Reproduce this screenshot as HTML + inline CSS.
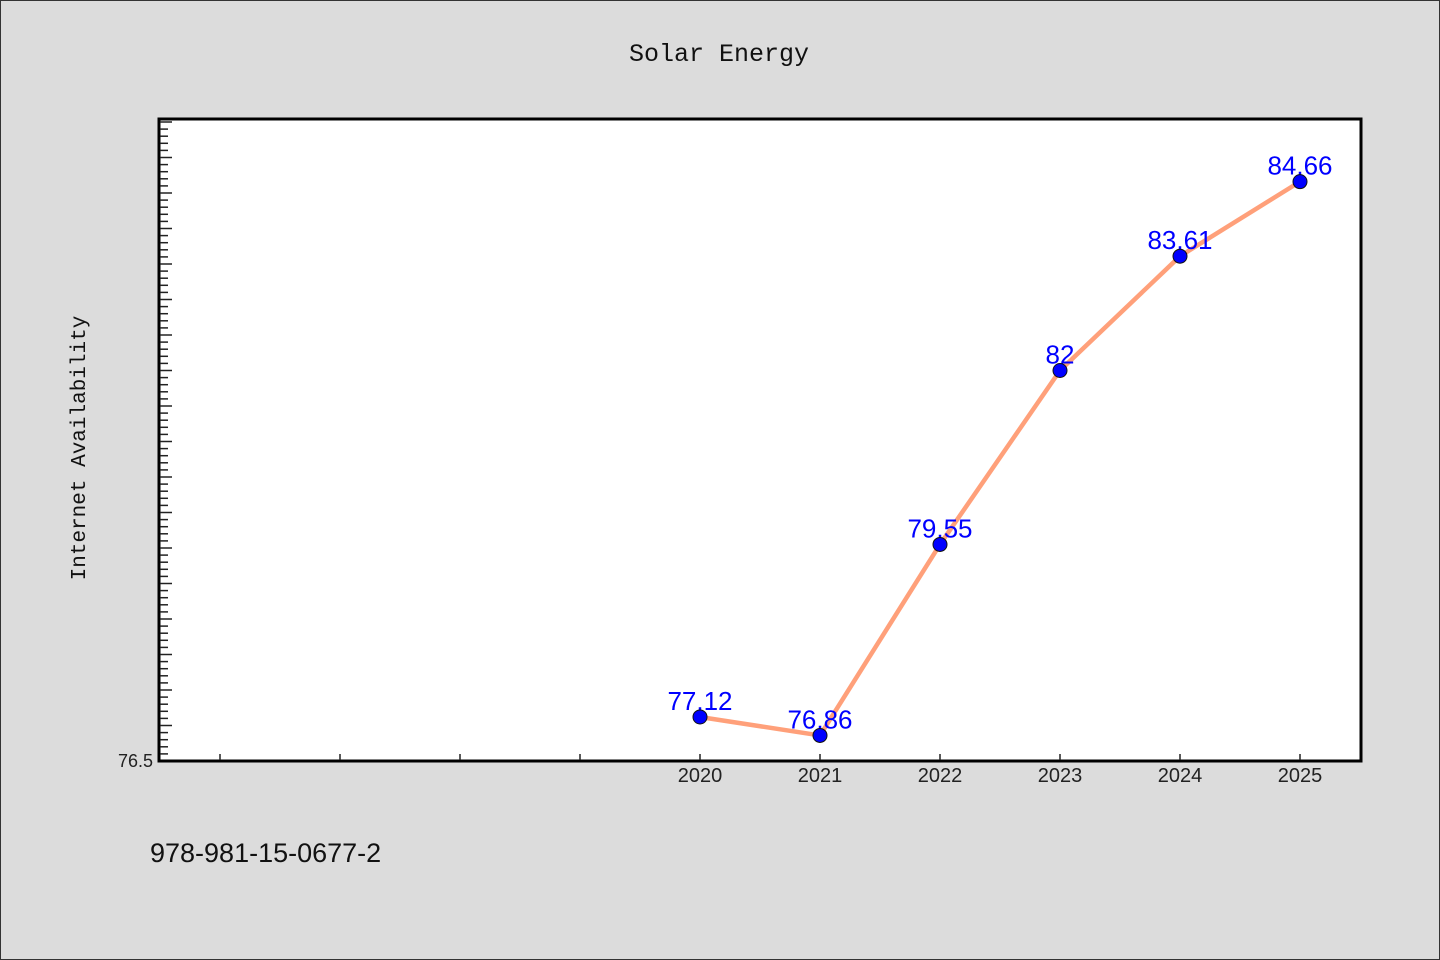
<!DOCTYPE html>
<html><head><meta charset="utf-8"><style>
body{margin:0;background:#dcdcdc;}
svg{display:block;}
</style></head><body>
<svg width="1440" height="960" xmlns="http://www.w3.org/2000/svg">
<rect x="0.5" y="0.5" width="1439" height="959" fill="#dcdcdc" stroke="#333"/>
<text x="719" y="61" text-anchor="middle" font-family="Liberation Mono, monospace" font-size="25" fill="#111">Solar Energy</text>
<text transform="translate(85,448) rotate(-90)" text-anchor="middle" font-family="Liberation Mono, monospace" font-size="21" fill="#111">Internet Availability</text>
<rect x="159" y="119" width="1202" height="642" fill="#fff" stroke="#000" stroke-width="3"/>
<g id="ticks"></g>
<g id="marks"></g>
<text x="150" y="862" font-family="Liberation Sans, sans-serif" font-size="27" fill="#111">978-981-15-0677-2</text>
</svg>
<script>
const categories=[2020,2021,2022,2023,2024,2025];
const values=[77.12,76.86,79.55,82,83.61,84.66];
const valueLabels=["77.12","76.86","79.55","82","83.61","84.66"];
const xMinorTicks=[2016,2017,2018,2019];
const yMin=76.5, yMax=85.54;
const NS="http://www.w3.org/2000/svg";
const X=v=>160+(v-2015.5)*120;
const Y=v=>761-(v-yMin)*71;
function mk(t,a,p){const e=document.createElementNS(NS,t);for(const k in a)e.setAttribute(k,a[k]);p.appendChild(e);return e;}
const tg=document.getElementById('ticks'), mg=document.getElementById('marks');
for(let i=1;i*0.1+yMin<=yMax+1e-9;i++){
  const y=Y(yMin+i*0.1), major=i%5===0;
  const l=mk('line',{x1:160,x2:160+(major?12:8),y1:y,y2:y,stroke:'#222','stroke-width':1.5},tg);
  
  
}
const yl=mk('text',{x:153,y:767,'text-anchor':'end','font-family':'Liberation Sans, sans-serif','font-size':18,fill:'#222'},tg);
yl.textContent='76.5';


xMinorTicks.concat(categories).forEach(c=>{
  const l=mk('line',{x1:X(c),x2:X(c),y1:760,y2:754,stroke:'#222','stroke-width':1.5},tg);
  
  
});
categories.forEach(c=>{
  const t=mk('text',{x:X(c),y:782,'text-anchor':'middle','font-family':'Liberation Sans, sans-serif','font-size':20,fill:'#222'},tg);
  t.textContent=c;
  
  
});
const pts=categories.map((c,i)=>X(c)+','+Y(values[i])).join(' ');
const pl=mk('polyline',{points:pts,fill:'none',stroke:'#ffa07a','stroke-width':4.5,'stroke-linejoin':'round'},mg);


categories.forEach((c,i)=>{
  const t=mk('text',{x:X(c),y:Y(values[i])-7,'text-anchor':'middle','font-family':'Liberation Sans, sans-serif','font-size':26,fill:'#0000ff'},mg);
  t.textContent=valueLabels[i];
  
  
});
categories.forEach((c,i)=>{
  const p=mk('circle',{cx:X(c),cy:Y(values[i]),r:7,fill:'#0000ff',stroke:'#111','stroke-width':1},mg);
  
  
});
</script>
</body></html>
